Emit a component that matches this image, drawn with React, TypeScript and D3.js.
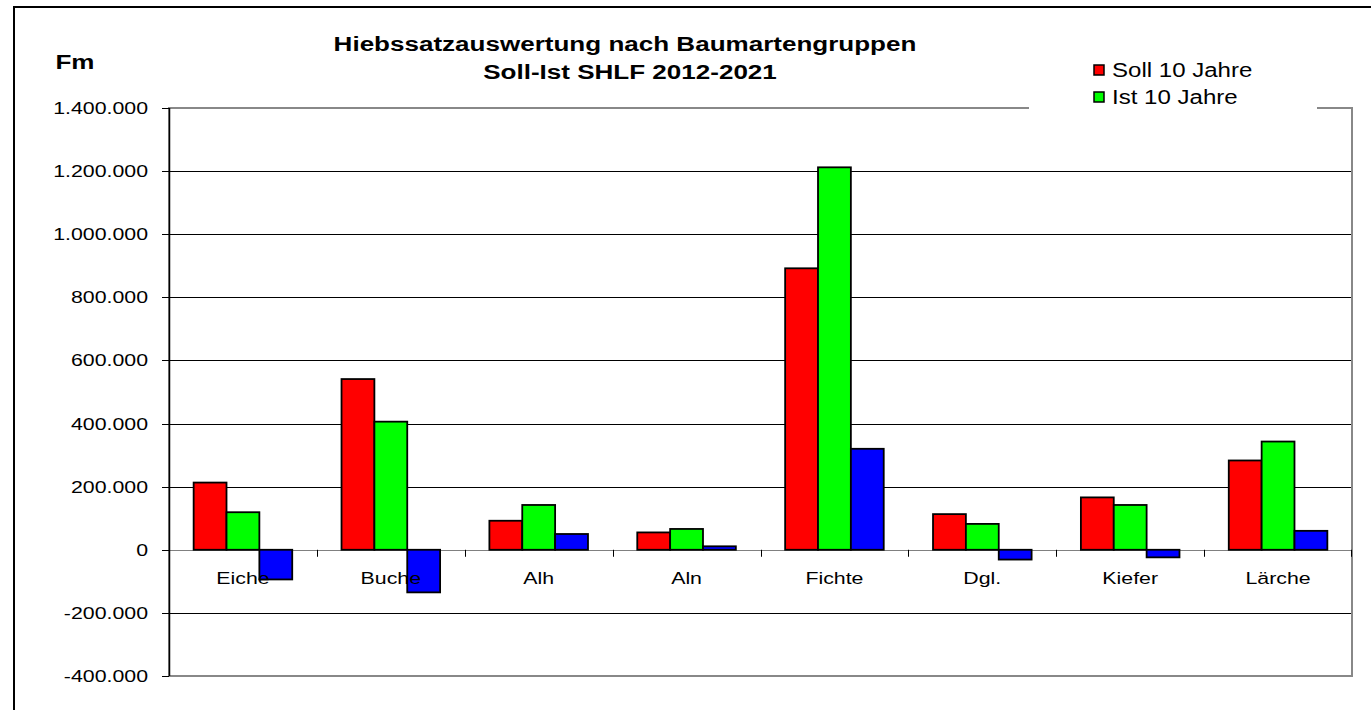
import React from "react";
import * as d3 from "d3";

const categories = ["Eiche", "Buche", "Alh", "Aln", "Fichte", "Dgl.", "Kiefer", "Lärche"];
const sollValues = [213000, 541000, 92000, 55000, 892000, 113000, 166000, 283000];
const istValues = [119000, 406000, 142000, 66000, 1212000, 82000, 142000, 343000];
const diffValues = [-94000, -135000, 50000, 11000, 320000, -31000, -24000, 60000];
const yTicks = [-400000, -200000, 0, 200000, 400000, 600000, 800000, 1000000, 1200000, 1400000];
const seriesNames = ["Soll 10 Jahre", "Ist 10 Jahre", "Differenz"];
const seriesColors = ["#ff0000", "#00ff00", "#0000ff"];
const titleLines = ["Hiebssatzauswertung nach Baumartengruppen", "Soll-Ist SHLF 2012-2021"];

const W = 1371;
const H = 710;
const SX = 1.24;
const FONT = "'Liberation Sans', Arial, sans-serif";

const plot = { left: 169, right: 1352, top: 108, bottom: 676 };

const locale = d3.formatLocale({ decimal: ",", thousands: ".", grouping: [3], currency: ["", ""], minus: "-" });
const fmt = locale.format(",");

function T({ x, y, size, bold, anchor, children }: any) {
  return (
    <g transform={`translate(${x},${y}) scale(${SX},1)`}>
      <text
        x={0}
        y={0}
        dy="0.35em"
        fontFamily={FONT}
        fontSize={size}
        fontWeight={bold ? "bold" : "normal"}
        textAnchor={anchor || "middle"}
        fill="#000"
      >
        {children}
      </text>
    </g>
  );
}

export default function App() {
  const y = d3.scaleLinear().domain([-400000, 1400000]).range([plot.bottom, plot.top]);
  const x = d3.scaleBand<string>().domain(categories).range([plot.left, plot.right]).paddingInner(0).paddingOuter(0);
  const xs = d3.scaleBand<number>().domain([0, 1, 2]).range([0, x.bandwidth()]).paddingInner(0).paddingOuter(0.75);
  const allSeries = [sollValues, istValues, diffValues];
  const y0 = y(0);

  return (
    <svg width={W} height={H} style={{ position: "absolute", left: 0, top: 0, background: "#fff" }}>
      <rect x={0} y={0} width={W} height={H} fill="#fff" />
      {/* outer chart border */}
      <rect x={14} y={7} width={W + 100} height={H + 100} fill="none" stroke="#000" strokeWidth={2} />

      {/* gridlines */}
      {yTicks.map((t) => (
        <line key={"g" + t} x1={plot.left} x2={plot.right} y1={Math.round(y(t)) + 0.5} y2={Math.round(y(t)) + 0.5} stroke={t === 0 ? "#808080" : "#000"} strokeWidth={1} />
      ))}

      {/* plot area border */}
      <rect x={plot.left} y={plot.top} width={plot.right - plot.left} height={plot.bottom - plot.top} fill="none" stroke="#888" strokeWidth={2} />

      {/* y axis */}
      <line x1={plot.left + 0.5} x2={plot.left + 0.5} y1={plot.top} y2={plot.bottom} stroke="#000" strokeWidth={1.5} />
      {yTicks.map((t) => (
        <g key={"t" + t}>
          <line x1={plot.left - 7} x2={plot.left} y1={Math.round(y(t)) + 0.5} y2={Math.round(y(t)) + 0.5} stroke="#000" strokeWidth={1} />
          <T x={148} y={y(t)} size={17.2} anchor="end">{fmt(t)}</T>
        </g>
      ))}

      {/* x axis ticks */}
      {categories.map((c, i) => (
        <line key={"xt" + c} x1={Math.round(x(c)!) + 0.5} x2={Math.round(x(c)!) + 0.5} y1={y0} y2={y0 + 7} stroke="#000" strokeWidth={1} />
      ))}
      <line x1={plot.right - 0.5} x2={plot.right - 0.5} y1={y0} y2={y0 + 7} stroke="#000" strokeWidth={1} />

      {/* bars */}
      {categories.map((c, i) => (
        <g key={"b" + c}>
          {allSeries.map((vals, s) => {
            const v = vals[i];
            const bx = x(c)! + xs(s)!;
            const top = Math.min(y(v), y0);
            const h = Math.abs(y(v) - y0);
            return <rect key={s} x={bx} y={top} width={xs.bandwidth()} height={h} fill={seriesColors[s]} stroke="#000" strokeWidth={1.8} />;
          })}
        </g>
      ))}

      {/* category labels */}
      {categories.map((c) => (
        <T key={"l" + c} x={x(c)! + x.bandwidth() / 2} y={578} size={17.2}>{c}</T>
      ))}

      {/* title */}
      <T x={625} y={44} size={21} bold>{titleLines[0]}</T>
      <T x={630} y={72} size={21} bold>{titleLines[1]}</T>
      <T x={75} y={62} size={21} bold>Fm</T>

      {/* legend */}
      <rect x={1029} y={50} width={288} height={66} fill="#fff" />
      {[0, 1].map((s) => (
        <g key={"lg" + s}>
          <rect x={1094} y={65 + s * 27} width={10} height={10} fill={seriesColors[s]} stroke="#000" strokeWidth={1.5} />
          <T x={1112} y={70 + s * 27} size={19.4} anchor="start">{seriesNames[s]}</T>
        </g>
      ))}
    </svg>
  );
}
